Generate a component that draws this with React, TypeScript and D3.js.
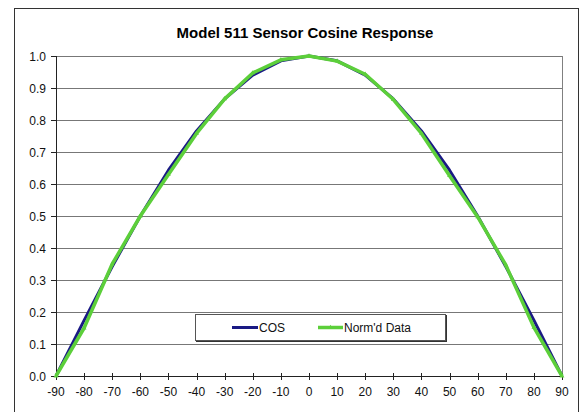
import * as d3 from 'd3';

// angle of incidence (degrees)
const angles = [-90, -80, -70, -60, -50, -40, -30, -20, -10, 0, 10, 20, 30, 40, 50, 60, 70, 80, 90];
// ideal cosine response
const cosValues = [0, 0.174, 0.342, 0.5, 0.643, 0.766, 0.866, 0.94, 0.985, 1, 0.985, 0.94, 0.866, 0.766, 0.643, 0.5, 0.342, 0.174, 0];
// measured, normalised sensor response
const normValues = [0, 0.15, 0.35, 0.5, 0.63, 0.758, 0.866, 0.947, 0.988, 1, 0.984, 0.943, 0.864, 0.758, 0.626, 0.497, 0.347, 0.152, 0];
const yTicks = [0, 0.1, 0.2, 0.3, 0.4, 0.5, 0.6, 0.7, 0.8, 0.9, 1.0];
const xTicks = angles;

const W = 583;
const H = 412;
const FONT = '"Liberation Sans", Arial, sans-serif';

export default function App() {
  const margin = { left: 56, right: 583 - 562, top: 56, bottom: 412 - 376 };
  const x = d3.scaleLinear().domain([-90, 90]).range([margin.left, W - margin.right]);
  const y = d3.scaleLinear().domain([0, 1]).range([H - margin.bottom, margin.top]);

  const cosLine = d3.line<number>().x((_, i) => x(angles[i])).y(d => y(d));
  const normLine = d3.line<number>().x((_, i) => x(angles[i])).y(d => y(d));
  const tri = d3.symbol().type(d3.symbolTriangle).size(10)() || '';

  const x0 = x(-90), x1 = x(90), yb = y(0), yt = y(1);

  return (
    <svg width={W} height={H} style={{ position: 'absolute', left: 0, top: 0, fontFamily: FONT }}>
      <rect x={0} y={0} width={W} height={H} fill="#fff" />
      {/* chart frame */}
      <rect x={14.5} y={8.5} width={564} height={420} fill="none" stroke="#333" strokeWidth={1} />

      <text x={305} y={38} textAnchor="middle" fontSize={15} fontWeight="bold" fill="#000">
        Model 511 Sensor Cosine Response
      </text>

      {/* gridlines */}
      {yTicks.map(t => (
        <line key={'g' + t} x1={x0} x2={x1} y1={Math.round(y(t)) + 0.5} y2={Math.round(y(t)) + 0.5} stroke="#777" strokeWidth={1} />
      ))}
      <line x1={x1 + 0.5} x2={x1 + 0.5} y1={yt} y2={yb} stroke="#808080" strokeWidth={1} />

      {/* y axis */}
      <line x1={x0 + 0.5} x2={x0 + 0.5} y1={yt} y2={yb} stroke="#222" strokeWidth={1} />
      {yTicks.map(t => (
        <g key={'y' + t}>
          <line x1={x0 - 5} x2={x0} y1={Math.round(y(t)) + 0.5} y2={Math.round(y(t)) + 0.5} stroke="#222" />
          <text x={46} y={y(t) + 4.5} textAnchor="end" fontSize={12} fill="#111">{t.toFixed(1)}</text>
        </g>
      ))}

      {/* x axis */}
      <line x1={x0} x2={x1} y1={Math.round(yb) + 0.5} y2={Math.round(yb) + 0.5} stroke="#222" />
      {xTicks.map(t => (
        <g key={'x' + t}>
          <line x1={Math.round(x(t)) + 0.5} x2={Math.round(x(t)) + 0.5} y1={yb - 3} y2={yb + 4} stroke="#222" />
          <text x={x(t)} y={396} textAnchor="middle" fontSize={12} fill="#111">{t}</text>
        </g>
      ))}

      {/* series */}
      <path d={cosLine(cosValues) || ''} fill="none" stroke="#1a1a84" strokeWidth={3} strokeLinejoin="round" />
      <path d={normLine(normValues) || ''} fill="none" stroke="#5ccf3a" strokeWidth={3.5} strokeLinejoin="round" />
      {normValues.map((v, i) => (
        <path key={'m' + i} d={tri} transform={`translate(${x(angles[i])},${y(v)})`} fill="#5ccf3a" />
      ))}

      {/* legend */}
      <rect x={195.5} y={314.5} width={250} height={26} fill="#fff" stroke="#555" strokeWidth={1} />
      <line x1={196} x2={446} y1={341.5} y2={341.5} stroke="#333" />
      <line x1={446.5} x2={446.5} y1={315} y2={342} stroke="#333" />
      <line x1={232} x2={258} y1={327.5} y2={327.5} stroke="#1a1a84" strokeWidth={3} />
      <text x={259} y={332} fontSize={12} fill="#111">COS</text>
      <line x1={318} x2={343} y1={327.5} y2={327.5} stroke="#5ccf3a" strokeWidth={3.5} />
      <path d={tri} transform="translate(330.5,327.5)" fill="#5ccf3a" />
      <text x={344} y={332} fontSize={12} fill="#111">Norm'd Data</text>
    </svg>
  );
}
